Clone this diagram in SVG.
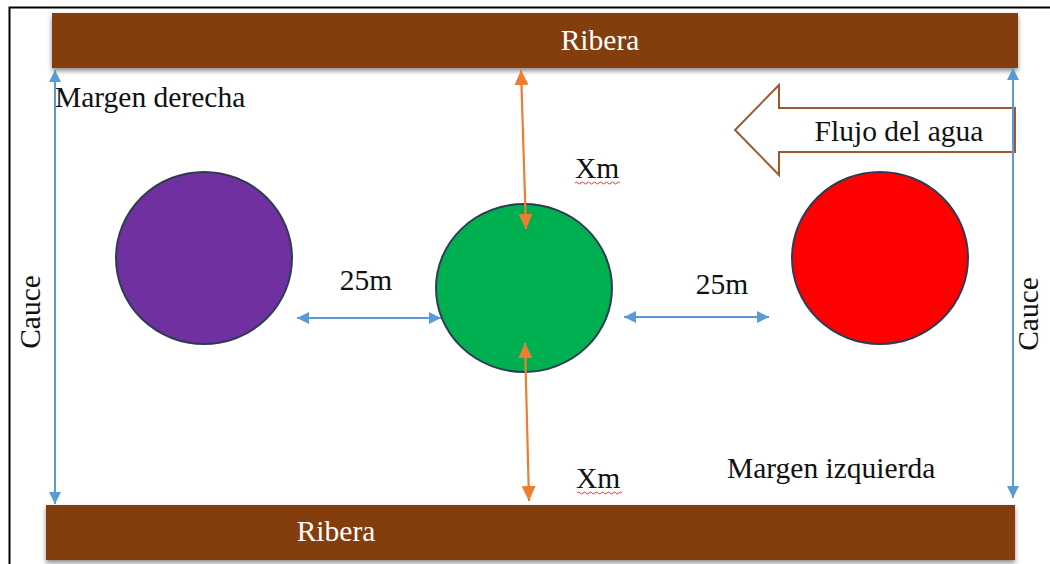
<svg xmlns="http://www.w3.org/2000/svg" width="1050" height="564" viewBox="0 0 1050 564">
<style>
.bar{fill:#843C0C;filter:url(#sh)}
.t{font-family:"Liberation Serif","Times New Roman",serif;font-size:29.5px;fill:#111}
.tw{font-family:"Liberation Serif","Times New Roman",serif;font-size:29.5px;fill:#fff}
.blue{stroke:#5B9BD5;stroke-width:2;fill:none;marker-start:url(#bs);marker-end:url(#be)}
.orange{stroke:#ED7D31;stroke-width:2.2;fill:none;marker-start:url(#os);marker-end:url(#oe)}
.circ{stroke:#2F3B55;stroke-width:2}
.wavy{stroke:#E53935;stroke-width:1;fill:none}
</style>
<defs>
<filter id="sh" x="-5%" y="-30%" width="110%" height="170%">
<feDropShadow dx="0" dy="3" stdDeviation="2.5" flood-color="#000" flood-opacity="0.45"/>
</filter>
<marker id="be" viewBox="0 0 12 12" refX="12" refY="6" markerWidth="12" markerHeight="12" markerUnits="userSpaceOnUse" orient="auto">
<path d="M0,0 L12,6 L0,12 z" fill="#5B9BD5"/>
</marker>
<marker id="bs" viewBox="0 0 12 12" refX="12" refY="6" markerWidth="12" markerHeight="12" markerUnits="userSpaceOnUse" orient="auto-start-reverse">
<path d="M0,0 L12,6 L0,12 z" fill="#5B9BD5"/>
</marker>
<marker id="oe" viewBox="0 0 15 14" refX="15" refY="7" markerWidth="15" markerHeight="14" markerUnits="userSpaceOnUse" orient="auto">
<path d="M0,0 L15,7 L0,14 z" fill="#ED7D31"/>
</marker>
<marker id="os" viewBox="0 0 15 14" refX="15" refY="7" markerWidth="15" markerHeight="14" markerUnits="userSpaceOnUse" orient="auto-start-reverse">
<path d="M0,0 L15,7 L0,14 z" fill="#ED7D31"/>
</marker>
</defs>
<rect x="0" y="0" width="1050" height="564" fill="#fff"/>
<path d="M9.5,564 L9.5,7.5 L1050,7.5" stroke="#000" stroke-width="2" fill="none"/>

<g id="ribera-top">
<rect class="bar" x="52" y="13" width="966" height="55"/>
<text class="tw" x="600" y="50" text-anchor="middle">Ribera</text>
</g>
<g id="ribera-bottom">
<rect class="bar" x="46" y="505" width="969" height="55"/>
<text class="tw" x="336" y="541" text-anchor="middle">Ribera</text>
</g>

<g id="margen-derecha"><text class="t" x="55" y="107">Margen derecha</text></g>
<g id="margen-izquierda"><text class="t" x="727" y="478">Margen izquierda</text></g>

<g id="flujo">
<path d="M1015,108 L779,108 L779,85 L735,130 L779,175 L779,152 L1015,152 Z" fill="#fff" stroke="#9A5A2E" stroke-width="2"/>
<text class="t" x="899" y="141" text-anchor="middle">Flujo del agua</text>
</g>

<g id="circulo-morado"><ellipse class="circ" cx="204" cy="258" rx="88" ry="86" fill="#7030A0"/></g>
<g id="circulo-verde"><ellipse class="circ" cx="524" cy="288" rx="88" ry="84" fill="#00B050"/></g>
<g id="circulo-rojo"><ellipse class="circ" cx="880" cy="258" rx="88" ry="86" fill="#FF0000"/></g>

<g id="connectors">
<line class="blue" x1="55" y1="70" x2="55" y2="504"/>
<line class="blue" x1="1013" y1="68" x2="1013" y2="498"/>
<line class="blue" x1="297" y1="318" x2="441" y2="318"/>
<line class="blue" x1="624" y1="317" x2="769" y2="317"/>
<line class="orange" x1="521" y1="70" x2="526" y2="229"/>
<line class="orange" x1="525" y1="343" x2="529" y2="501"/>
</g>

<g id="labels">
<text class="t" x="366" y="290" text-anchor="middle">25m</text>
<text class="t" x="722" y="294" text-anchor="middle">25m</text>
<text class="t" x="597" y="178" text-anchor="middle">Xm</text>
<path class="wavy" d="M575,183 q1.5,-2 3,0 t3,0 t3,0 t3,0 t3,0 t3,0 t3,0 t3,0 t3,0 t3,0 t3,0 t3,0 t3,0 t3,0 t3,0"/>
<text class="t" x="598" y="488" text-anchor="middle">Xm</text>
<path class="wavy" d="M577,493 q1.5,-2 3,0 t3,0 t3,0 t3,0 t3,0 t3,0 t3,0 t3,0 t3,0 t3,0 t3,0 t3,0 t3,0 t3,0 t3,0"/>
<text class="t" transform="translate(40,312) rotate(-90)" text-anchor="middle">Cauce</text>
<text class="t" transform="translate(1038,314) rotate(-90)" text-anchor="middle">Cauce</text>
</g>
</svg>
